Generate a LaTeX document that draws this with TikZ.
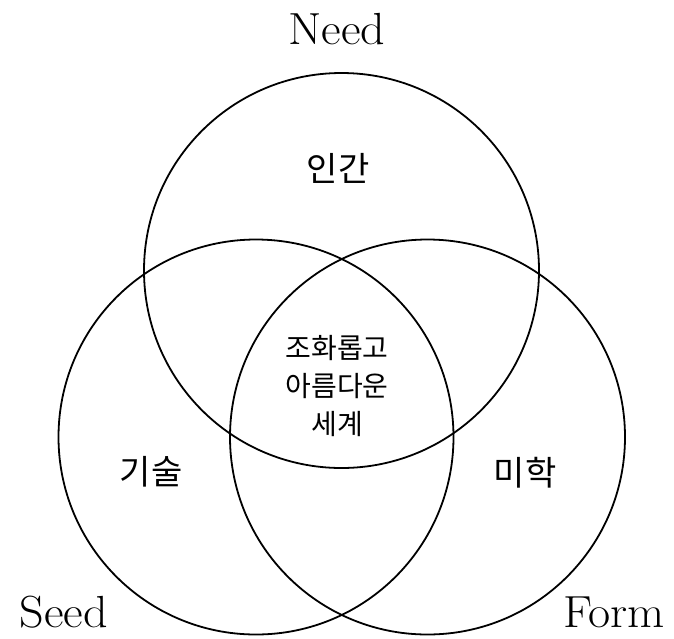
\documentclass[tikz,border=0pt]{standalone}
\usepackage{fontspec}
\newfontfamily\kr{Noto Sans CJK KR}
\begin{document}
\begin{tikzpicture}[x=1pt,y=-1pt,
  ring/.style={circle,draw=black,line width=1.8pt,minimum size=395pt,inner sep=0pt},
  title/.style={font=\fontsize{45}{50}\selectfont,inner sep=0pt,anchor=base},
  krlabel/.style={font=\kr\fontsize{34}{40}\selectfont,inner sep=0pt},
  krcenter/.style={font=\kr\fontsize{28}{38}\selectfont,inner sep=0pt,align=center}]
\useasboundingbox (0,0) rectangle (674,638);
\node[ring] (top) at (341.5,270.5) {};
\node[ring] (left) at (256,437) {};
\node[ring] (right) at (427.5,437) {};
\node[title] (need) at (337,44) {\scalebox{1.07}[1]{Need}};
\node[title] (seed) at (64,627) {\scalebox{1.07}[1]{Seed}};
\node[title] (form) at (614,627) {\scalebox{1.07}[1]{Form}};
\node[krlabel] (human) at (338,168) {인간};
\node[krlabel] (tech) at (151,472) {기술};
\node[krlabel] (aes) at (525,473) {미학};
\node[krcenter] (world) at (337,386) {조화롭고\\아름다운\\세계};
\end{tikzpicture}
\end{document}
